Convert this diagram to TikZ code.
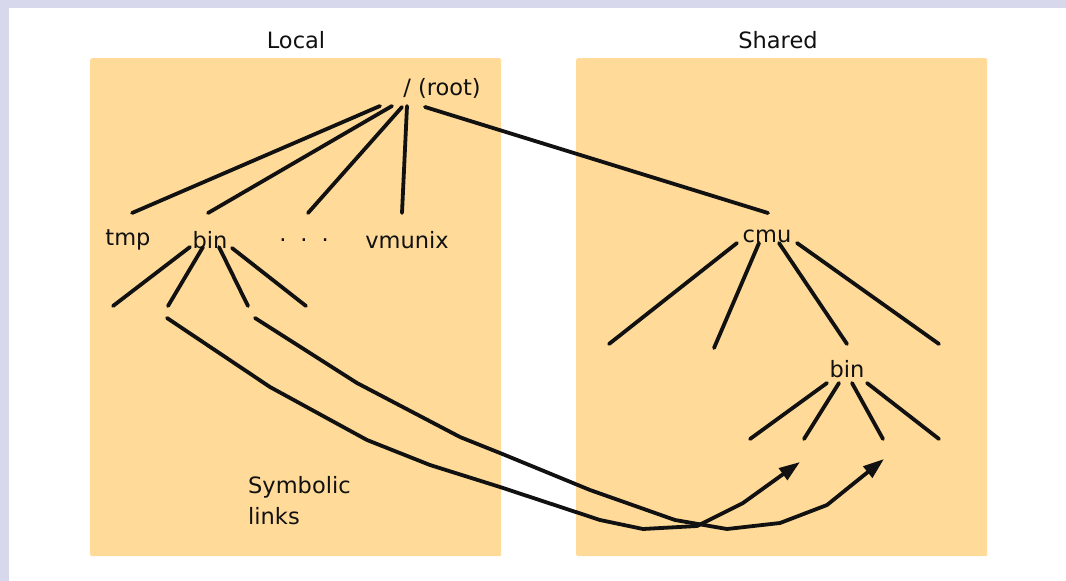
\documentclass[tikz,border=0pt]{standalone}
\usepackage{fontspec}
\setmainfont{DejaVu Sans}
\usetikzlibrary{arrows.meta}
\definecolor{lav}{HTML}{D8D8EC}
\definecolor{panel}{HTML}{FFDA98}
\definecolor{ink}{HTML}{111111}
\begin{document}
\begin{tikzpicture}[x=1pt,y=-1pt,
  lbl/.style={font=\fontsize{22.5}{31}\selectfont, text=ink, inner sep=0pt},
  edge/.style={line width=3.8pt, line cap=round, draw=ink},
  link/.style={line width=3.8pt, line join=round, line cap=round, draw=ink,
     -{Triangle[length=21pt,width=14pt]}},
  panelbox/.style={fill=panel, rounded corners=2pt, draw=none, inner sep=0pt}]
\useasboundingbox (0,0) rectangle (1066,581);
\fill[white] (0,0) rectangle (1066,581);
\fill[lav] (0,0) rectangle (1066,8);
\fill[lav] (0,0) rectangle (9,581);
% panels
\node[panelbox, minimum width=411pt, minimum height=498pt, anchor=north west] (localbox) at (90,58) {};
\node[panelbox, minimum width=411pt, minimum height=498pt, anchor=north west] (sharedbox) at (576,58) {};
\node[lbl] (localt) at (296,40) {Local};
\node[lbl] (sharedt) at (778,40) {Shared};
% labels
\node[lbl] (root) at (442,88) {/ (root)};
\node[lbl] (tmp) at (128,240) {tmp};
\node[lbl] (lbin) at (210,240) {bin};
\node[lbl] (dots) at (304,240) {.\hspace{14pt}.\hspace{14pt}.};
\node[lbl] (vmunix) at (407,240) {vmunix};
\node[lbl] (cmu) at (767,236) {cmu};
\node[lbl] (sbin) at (847,369) {bin};
\node[lbl, align=left, anchor=north west] (symlinks) at (248,476) {Symbolic\\links};
% endpoints
\coordinate (r1) at (380,106); \coordinate (r2) at (392,106);
\coordinate (r3) at (402,107); \coordinate (r4) at (407,106);
\coordinate (r5) at (425,107);
\coordinate (t1) at (132,213); \coordinate (t2) at (208,213);
\coordinate (t3) at (308,213); \coordinate (t4) at (402,213);
\coordinate (t5) at (768,213);
% local bin
\coordinate (lb1) at (190,247); \coordinate (lb2) at (203,247);
\coordinate (lb3) at (219,247); \coordinate (lb4) at (232,248);
\coordinate (lc1) at (113,306); \coordinate (lc2) at (168,306);
\coordinate (lc3) at (248,306); \coordinate (lc4) at (306,306);
% cmu
\coordinate (cb1) at (737,243); \coordinate (cb2) at (759,243);
\coordinate (cb3) at (779,243); \coordinate (cb4) at (797,243);
\coordinate (cc1) at (609,344); \coordinate (cc2) at (714,348);
\coordinate (cc3) at (847,344); \coordinate (cc4) at (939,344);
% shared bin
\coordinate (sb1) at (827,383); \coordinate (sb2) at (839,383);
\coordinate (sb3) at (852,383); \coordinate (sb4) at (867,383);
\coordinate (sc1) at (750,439); \coordinate (sc2) at (804,439);
\coordinate (sc3) at (883,439); \coordinate (sc4) at (939,439);
% link ends
\coordinate (la) at (167,318); \coordinate (lat) at (800,462);
\coordinate (lbs) at (255,318); \coordinate (lbt) at (884,459);
% tree edges
\foreach \a/\b in {r1/t1,r2/t2,r3/t3,r4/t4,r5/t5,
                   lb1/lc1,lb2/lc2,lb3/lc3,lb4/lc4,
                   cb1/cc1,cb2/cc2,cb3/cc3,cb4/cc4,
                   sb1/sc1,sb2/sc2,sb3/sc3,sb4/sc4}
  \draw[edge] (\a) -- (\b);
% symbolic links
\draw[link] (la) -- (270,387) -- (367,440) -- (430,465) -- (500,487) -- (600,520) -- (643,529)
  -- (697,526) -- (743,503) -- (lat);
\draw[link] (lbs) -- (357,383) -- (460,437) -- (500,453) -- (590,490) -- (675,520)
  -- (727,529) -- (780,523) -- (827,505) -- (lbt);
\end{tikzpicture}
\end{document}
